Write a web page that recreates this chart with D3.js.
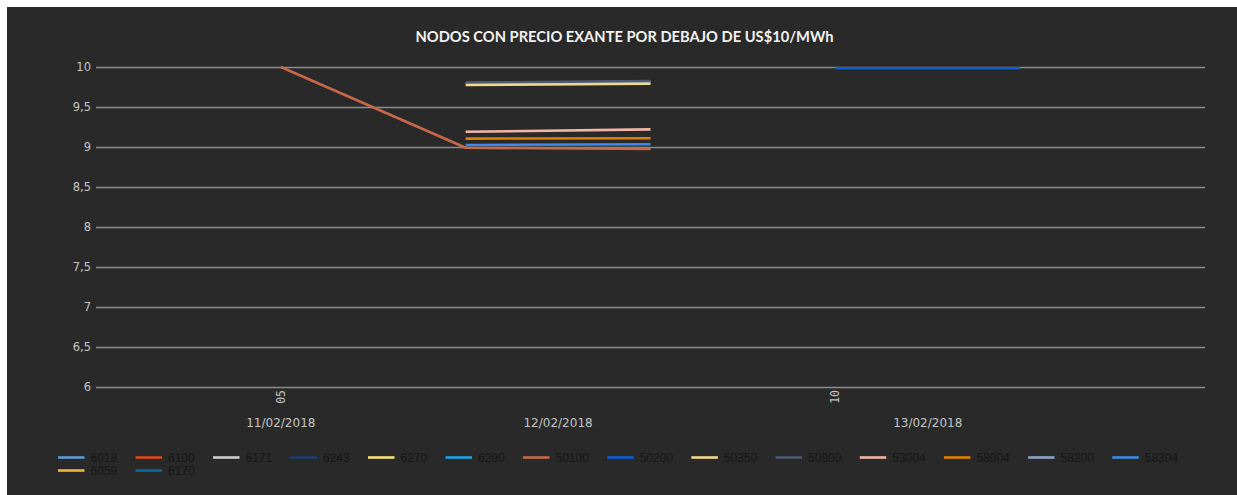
<!DOCTYPE html>
<html>
<head>
<meta charset="utf-8">
<script src="https://cdn.jsdelivr.net/npm/d3@7"></script>
<style>
  html, body { margin: 0; padding: 0; background: #ffffff; }
  svg { display: block; }
</style>
</head>
<body>
<svg id="chart" width="1237" height="495"></svg>
<script>
// ---- data ----
const categories = ["c0", "c1", "c2", "c3", "c4"];
const hourLabels = ["05", "", "", "10", ""];
const dateOfCategory = ["11/02/2018", "12/02/2018", "12/02/2018", "13/02/2018", "13/02/2018"];
const yTicks = [6, 6.5, 7, 7.5, 8, 8.5, 9, 9.5, 10];
const title = "NODOS CON PRECIO EXANTE POR DEBAJO DE US$10/MWh";

const seriesNames = ["6018", "6100", "6171", "6243", "6270", "6290", "50100", "50200",
                     "50350", "50900", "53004", "58004", "58200", "58304", "6059", "6170"];
const seriesColors = ["#5b9bd5", "#e0471b", "#cfcfcf", "#1f3d6e", "#f7e27a", "#1ea5e6", "#c8684a", "#0b5fd8",
                      "#f2d98c", "#4d5a70", "#f4b6a8", "#e08000", "#8ea3c9", "#3f8ae8", "#f3b63c", "#0b6aa0"];
const s6018  = [null, null, null, null, null];
const s6100  = [null, null, null, null, null];
const s6171  = [null, null, null, null, null];
const s6243  = [null, null, null, null, null];
const s6270  = [null, null, null, null, null];
const s6290  = [null, null, null, null, null];
const s50100 = [10, 8.99, 8.975, null, null];
const s50200 = [null, null, null, 9.985, 9.985];
const s50350 = [null, 9.775, 9.79, null, null];
const s50900 = [null, 9.805, 9.825, null, null];
const s53004 = [null, 9.19, 9.22, null, null];
const s58004 = [null, 9.105, 9.11, null, null];
const s58200 = [null, 9.795, 9.815, null, null];
const s58304 = [null, 9.025, 9.035, null, null];
const s6059  = [null, null, null, null, null];
const s6170  = [null, null, null, null, null];
const seriesValues = [s6018, s6100, s6171, s6243, s6270, s6290, s50100, s50200,
                      s50350, s50900, s53004, s58004, s58200, s58304, s6059, s6170];
// draw order (back to front)
const drawOrder = ["58200", "50900", "50350", "53004", "58004", "50100", "58304", "50200",
                   "6018", "6100", "6171", "6243", "6270", "6290", "6059", "6170"];

// ---- layout ----
const svg = d3.select("#chart");
const W = 1237, H = 495;
svg.append("rect").attr("x", 0).attr("y", 0).attr("width", W).attr("height", H).attr("fill", "#ffffff");
svg.append("rect").attr("x", 7).attr("y", 7).attr("width", W - 7).attr("height", H - 7).attr("fill", "#292929");

const plot = { left: 96, right: 1205, top: 67, bottom: 387 };
const x = d3.scalePoint().domain(categories).range([plot.left, plot.right]).padding(1);
const y = d3.scaleLinear().domain([6, 10]).range([plot.bottom, plot.top]);

// title
svg.append("text")
  .attr("x", 624.5).attr("y", 36)
  .attr("text-anchor", "middle").attr("dominant-baseline", "central")
  .attr("font-family", "Lato, 'Open Sans', sans-serif")
  .attr("font-weight", "bold").attr("font-size", 14.7)
  .attr("fill", "#f2f2f2")
  .text(title);

// y axis grid + labels
const yAxis = d3.axisLeft(y)
  .tickValues(yTicks)
  .tickSize(-(plot.right - plot.left))
  .tickPadding(5)
  .tickFormat(d => String(d).replace(".", ","));
const gy = svg.append("g").attr("transform", `translate(${plot.left},0)`).call(yAxis);
gy.select(".domain").remove();
gy.selectAll(".tick line").attr("stroke", "#8c8c8c").attr("stroke-width", 1.6);
gy.selectAll(".tick text")
  .attr("fill", "#c4c4c4")
  .attr("font-family", "'DejaVu Sans', sans-serif")
  .attr("font-size", 11.5);

// x axis hour labels (rotated)
const gx = svg.append("g");
categories.forEach((c, i) => {
  if (!hourLabels[i]) return;
  gx.append("text")
    .attr("transform", `translate(${x(c)},${plot.bottom + 3}) rotate(-90)`)
    .attr("text-anchor", "end").attr("dominant-baseline", "central")
    .attr("font-family", "'DejaVu Sans Mono', monospace")
    .attr("font-size", 11.5).attr("fill", "#c4c4c4")
    .text(hourLabels[i]);
});
// date group labels
const dates = Array.from(new Set(dateOfCategory));
dates.forEach(dt => {
  const xs = categories.filter((c, i) => dateOfCategory[i] === dt).map(c => x(c));
  gx.append("text")
    .attr("x", d3.mean(xs)).attr("y", 423)
    .attr("text-anchor", "middle").attr("dominant-baseline", "central")
    .attr("font-family", "'DejaVu Sans', sans-serif")
    .attr("font-size", 12).attr("fill", "#c4c4c4")
    .text(dt);
});

// series lines
const line = d3.line()
  .defined(d => d.v !== null)
  .x(d => x(d.c))
  .y(d => y(d.v));
const gLines = svg.append("g");
drawOrder.forEach(name => {
  const k = seriesNames.indexOf(name);
  const pts = categories.map((c, i) => ({ c, v: seriesValues[k][i] }));
  if (pts.every(p => p.v === null)) return;
  gLines.append("path")
    .attr("d", line(pts))
    .attr("fill", "none")
    .attr("stroke", seriesColors[k])
    .attr("stroke-width", 2.6)
    .attr("stroke-linejoin", "round");
});

// legend
const legendRows = [seriesNames.slice(0, 14), seriesNames.slice(14)];
const rowY = [457.5, 470.5];
const gLeg = svg.append("g");
legendRows.forEach((row, r) => {
  let cx = 58;
  row.forEach(name => {
    const k = seriesNames.indexOf(name);
    gLeg.append("line")
      .attr("x1", cx).attr("x2", cx + 26.5)
      .attr("y1", rowY[r]).attr("y2", rowY[r])
      .attr("stroke", seriesColors[k]).attr("stroke-width", 2.6);
    const t = gLeg.append("text")
      .attr("x", cx + 32.5).attr("y", rowY[r])
      .attr("dominant-baseline", "central")
      .attr("font-family", "'Liberation Sans', Arial, sans-serif")
      .attr("font-size", 12).attr("fill", "#161616")
      .text(name);
    const tw = t.node().getComputedTextLength();
    cx += 32.5 + tw + 18.3;
  });
});
</script>
</body>
</html>
